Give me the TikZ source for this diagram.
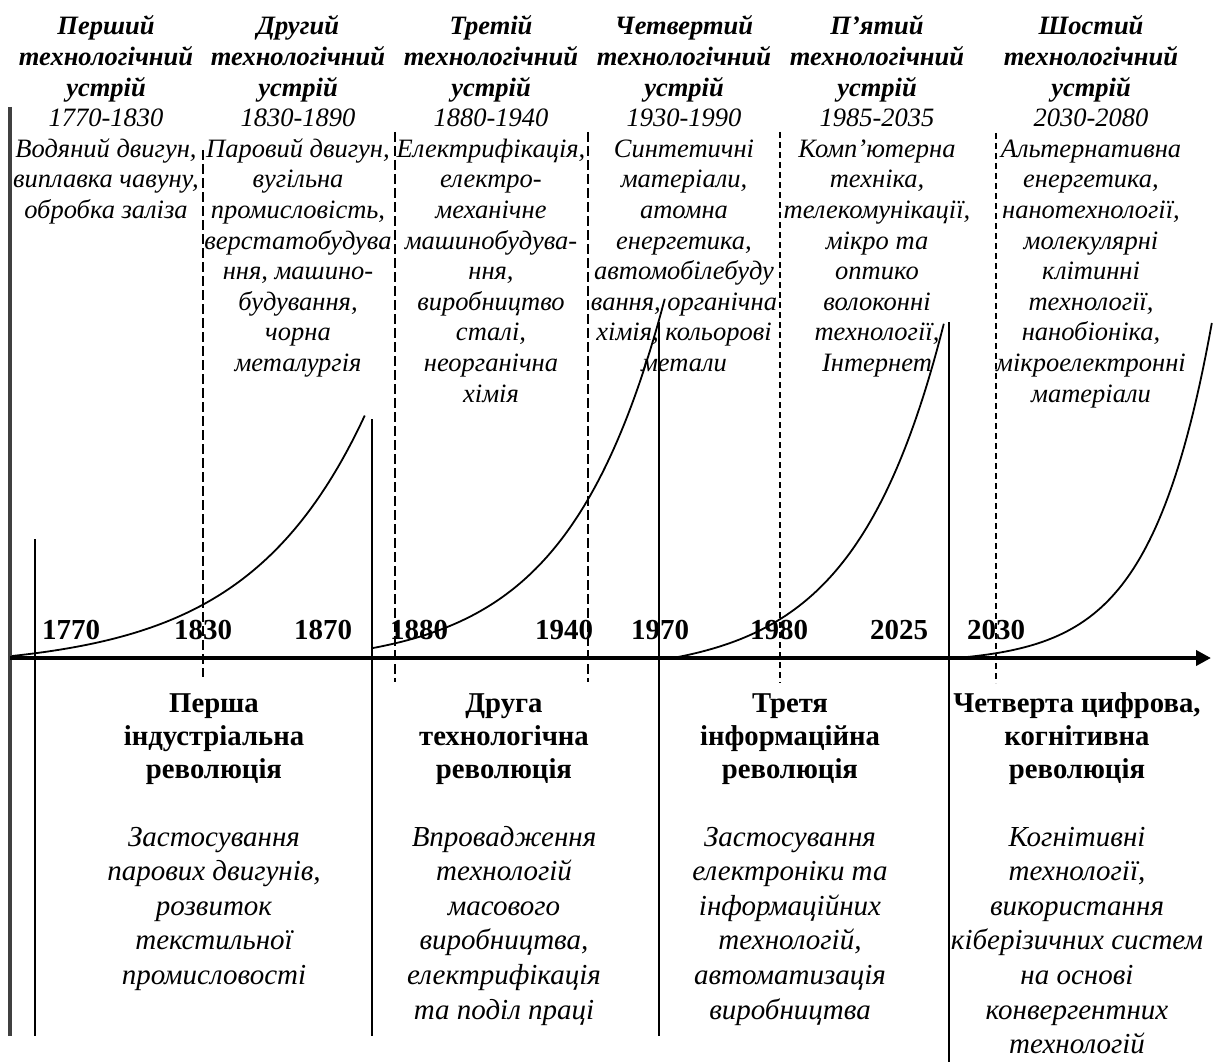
\documentclass[tikz,border=0pt]{standalone}
\usepackage{fontspec}
\setmainfont{Liberation Serif}
\usetikzlibrary{arrows.meta}
\setlength{\tabcolsep}{0pt}
\renewcommand{\arraystretch}{1}
\definecolor{leftgray}{RGB}{64,64,64}
\begin{document}
\begin{tikzpicture}[x=1pt,y=-1pt,
  hdr/.style={anchor=base, inner sep=0pt, font=\fontsize{26.5}{30.6}\selectfont\itshape},
  rev/.style={anchor=base, inner sep=0pt, font=\fontsize{28.7}{33}\selectfont\bfseries},
  dsc/.style={anchor=base, inner sep=0pt, font=\fontsize{29}{34.6}\selectfont\itshape},
  yr/.style={anchor=base, inner sep=0pt, font=\fontsize{29}{33}\selectfont\bfseries},
  solidv/.style={line width=2.2pt},
  curvel/.style={line width=1.8pt},
  dashA/.style={line width=1.5pt, dash pattern=on 10pt off 4pt},
  dashB/.style={line width=1.3pt, dash pattern=on 6pt off 4pt},
]
\useasboundingbox (0,0) rectangle (1213,1062);

% ---- vertical guide lines ----
\coordinate (g1) at (10,107);   \coordinate (g2) at (10,1036);
\draw[line width=4pt, leftgray] (g1) -- (g2);
\coordinate (v1a) at (35,539);  \coordinate (v1b) at (35,1036);
\coordinate (v2a) at (372,419); \coordinate (v2b) at (372,1036);
\coordinate (v3a) at (659,322); \coordinate (v3b) at (659,1036);
\coordinate (v4a) at (949,322); \coordinate (v4b) at (949,1062);
\draw[solidv] (v1a) -- (v1b);
\draw[solidv] (v2a) -- (v2b);
\draw[solidv] (v3a) -- (v3b);
\draw[solidv] (v4a) -- (v4b);

% ---- dashed lines ----
\coordinate (d1a) at (203,150); \coordinate (d1b) at (203,677);
\coordinate (d2a) at (395,132); \coordinate (d2b) at (395,682);
\coordinate (d3a) at (588,132); \coordinate (d3b) at (588,682);
\coordinate (d4a) at (780,132); \coordinate (d4b) at (780,683);
\coordinate (d5a) at (996,133); \coordinate (d5b) at (996,683);
\draw[dashA] (d1a) -- (d1b);
\draw[dashA] (d2a) -- (d2b);
\draw[dashA] (d3a) -- (d3b);
\draw[dashB] (d4a) -- (d4b);
\draw[dashB] (d5a) -- (d5b);

% ---- growth curves ----
\draw[curvel] plot[domain=0:1, samples=80, variable=\t] ({12+353*\t}, {656-241*((exp(3*\t)-1)/(exp(3)-1))});
\draw[curvel] plot[domain=0:1, samples=80, variable=\t] ({373+292*\t}, {648-350*((exp(3*\t)-1)/(exp(3)-1))});
\draw[curvel] plot[domain=0:1, samples=80, variable=\t] ({678+266*\t}, {657-334*((exp(3*\t)-1)/(exp(3)-1))});
\draw[curvel] plot[domain=0:1, samples=80, variable=\t] ({967+245*\t}, {657-335*((exp(4*\t)-1)/(exp(4)-1))});

% ---- time axis ----
\coordinate (ax0) at (10,658); \coordinate (ax1) at (1211,658);
\draw[line width=4pt, -{Triangle[length=15pt,width=15pt]}] (ax0) -- (ax1);

% ---- year labels ----
\node[yr] (y1770) at (71,639) {1770};
\node[yr] (y1830) at (203,639) {1830};
\node[yr] (y1870) at (323,639) {1870};
\node[yr] (y1880) at (419,639) {1880};
\node[yr] (y1940) at (564,639) {1940};
\node[yr] (y1970) at (660,639) {1970};
\node[yr] (y1980) at (779,639) {1980};
\node[yr] (y2025) at (899,639) {2025};
\node[yr] (y2030) at (996,639) {2030};

% ---- technological modes (top) ----
\node[hdr] (h1) at (106,35) {\begin{tabular}[t]{c}\textbf{Перший}\\ \textbf{технологічний}\\ \textbf{устрій}\\ 1770-1830\\ Водяний двигун,\\ виплавка чавуну,\\ обробка заліза\end{tabular}};
\node[hdr] (h2) at (298,35) {\begin{tabular}[t]{c}\textbf{Другий}\\ \textbf{технологічний}\\ \textbf{устрій}\\ 1830-1890\\ Паровий двигун,\\ вугільна\\ промисловість,\\ верстатобудува\\ ння, машино-\\ будування,\\ чорна\\ металургія\end{tabular}};
\node[hdr] (h3) at (491,35) {\begin{tabular}[t]{c}\textbf{Третій}\\ \textbf{технологічний}\\ \textbf{устрій}\\ 1880-1940\\ Електрифікація,\\ електро-\\ механічне\\ машинобудува-\\ ння,\\ виробництво\\ сталі,\\ неорганічна\\ хімія\end{tabular}};
\node[hdr] (h4) at (684,35) {\begin{tabular}[t]{c}\textbf{Четвертий}\\ \textbf{технологічний}\\ \textbf{устрій}\\ 1930-1990\\ Синтетичні\\ матеріали,\\ атомна\\ енергетика,\\ автомобілебуду\\ вання, органічна\\ хімія, кольорові\\ метали\end{tabular}};
\node[hdr] (h5) at (877,35) {\begin{tabular}[t]{c}\textbf{П’ятий}\\ \textbf{технологічний}\\ \textbf{устрій}\\ 1985-2035\\ Комп’ютерна\\ техніка,\\ телекомунікації,\\ мікро та\\ оптико\\ волоконні\\ технології,\\ Інтернет\end{tabular}};
\node[hdr] (h6) at (1091,35) {\begin{tabular}[t]{c}\textbf{Шостий}\\ \textbf{технологічний}\\ \textbf{устрій}\\ 2030-2080\\ Альтернативна\\ енергетика,\\ нанотехнології,\\ молекулярні\\ клітинні\\ технології,\\ нанобіоніка,\\ мікроелектронні\\ матеріали\end{tabular}};

% ---- revolutions (bottom) ----
\node[rev] (r1) at (214,712) {\begin{tabular}[t]{c}Перша\\ індустріальна\\ революція\end{tabular}};
\node[rev] (r2) at (504,712) {\begin{tabular}[t]{c}Друга\\ технологічна\\ революція\end{tabular}};
\node[rev] (r3) at (790,712) {\begin{tabular}[t]{c}Третя\\ інформаційна\\ революція\end{tabular}};
\node[rev] (r4) at (1077,712) {\begin{tabular}[t]{c}Четверта цифрова,\\ когнітивна\\ революція\end{tabular}};

\node[dsc] (t1) at (214,846) {\begin{tabular}[t]{c}Застосування\\ парових двигунів,\\ розвиток\\ текстильної\\ промисловості\end{tabular}};
\node[dsc] (t2) at (504,846) {\begin{tabular}[t]{c}Впровадження\\ технологій\\ масового\\ виробництва,\\ електрифікація\\ та поділ праці\end{tabular}};
\node[dsc] (t3) at (790,846) {\begin{tabular}[t]{c}Застосування\\ електроніки та\\ інформаційних\\ технологій,\\ автоматизація\\ виробництва\end{tabular}};
\node[dsc] (t4) at (1077,846) {\begin{tabular}[t]{c}Когнітивні\\ технології,\\ використання\\ кіберізичних систем\\ на основі\\ конвергентних\\ технологій\end{tabular}};
\end{tikzpicture}
\end{document}
